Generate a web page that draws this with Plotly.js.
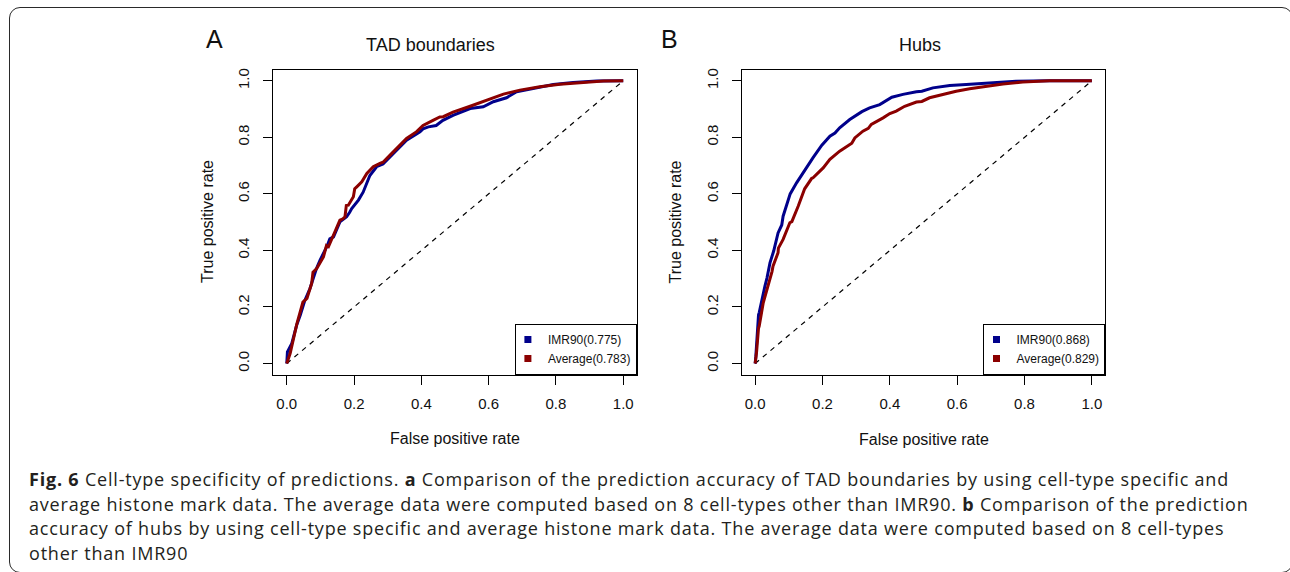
<!DOCTYPE html>
<html>
<head>
<meta charset="utf-8">
<script src="https://cdn.plot.ly/plotly-3.0.1.min.js"></script>
<style>
  html, body { margin: 0; padding: 0; background: #ffffff; }
  #wrap { position: relative; width: 1290px; height: 572px; overflow: hidden; }
  #chart { position: absolute; left: 0; top: 0; width: 1290px; height: 572px; }
  #frame { position: absolute; left: 9px; top: 7px; width: 1284px; height: 566px;
           border: 1.5px solid #2a2a2a; border-radius: 11px; box-sizing: border-box; pointer-events: none; }
</style>
</head>
<body>
<div id="wrap">
  <div id="chart"></div>
  <div id="frame"></div>
</div>
<script>
// ---------- Panel A: TAD boundaries ----------
const tadImrFpr = [0, 0.002, 0.015, 0.029, 0.040, 0.048, 0.054, 0.069, 0.088, 0.099, 0.119, 0.128, 0.139, 0.158, 0.178, 0.187, 0.193, 0.213, 0.227, 0.247, 0.267, 0.286, 0.297, 0.327, 0.356, 0.396, 0.405, 0.421, 0.444, 0.464, 0.494, 0.545, 0.584, 0.614, 0.653, 0.683, 0.733, 0.792, 0.851, 0.921, 1];
const tadImrTpr = [0, 0.041, 0.071, 0.134, 0.171, 0.205, 0.224, 0.265, 0.335, 0.366, 0.413, 0.441, 0.448, 0.501, 0.519, 0.535, 0.548, 0.578, 0.606, 0.665, 0.696, 0.706, 0.719, 0.755, 0.790, 0.820, 0.830, 0.837, 0.842, 0.860, 0.878, 0.902, 0.908, 0.926, 0.940, 0.961, 0.973, 0.987, 0.994, 0.999, 1];
const tadAvgFpr = [0, 0.010, 0.030, 0.034, 0.045, 0.048, 0.060, 0.074, 0.078, 0.089, 0.109, 0.118, 0.124, 0.139, 0.158, 0.167, 0.173, 0.177, 0.183, 0.198, 0.202, 0.208, 0.223, 0.238, 0.247, 0.257, 0.277, 0.286, 0.307, 0.332, 0.346, 0.356, 0.386, 0.405, 0.436, 0.455, 0.465, 0.494, 0.545, 0.594, 0.644, 0.693, 0.752, 0.812, 0.871, 0.941, 1];
const tadAvgTpr = [0, 0.035, 0.140, 0.158, 0.206, 0.217, 0.230, 0.283, 0.323, 0.336, 0.377, 0.417, 0.413, 0.454, 0.507, 0.512, 0.519, 0.559, 0.560, 0.590, 0.618, 0.625, 0.643, 0.672, 0.683, 0.696, 0.708, 0.712, 0.737, 0.767, 0.783, 0.796, 0.820, 0.842, 0.861, 0.872, 0.873, 0.889, 0.910, 0.932, 0.953, 0.967, 0.979, 0.988, 0.994, 0.999, 1];

// ---------- Panel B: Hubs ----------
const hubImrFpr = [0, 0.002, 0.010, 0.012, 0.029, 0.035, 0.044, 0.055, 0.068, 0.079, 0.083, 0.104, 0.123, 0.148, 0.172, 0.198, 0.222, 0.237, 0.251, 0.281, 0.317, 0.340, 0.370, 0.406, 0.439, 0.479, 0.495, 0.528, 0.578, 0.627, 0.696, 0.775, 0.874, 1];
const hubImrTpr = [0, 0.026, 0.172, 0.180, 0.274, 0.302, 0.356, 0.398, 0.462, 0.490, 0.521, 0.600, 0.639, 0.685, 0.728, 0.772, 0.804, 0.815, 0.834, 0.863, 0.891, 0.904, 0.916, 0.942, 0.952, 0.961, 0.963, 0.975, 0.983, 0.987, 0.993, 0.998, 1.0, 1];
const hubAvgFpr = [0, 0.004, 0.010, 0.012, 0.024, 0.025, 0.039, 0.050, 0.053, 0.068, 0.069, 0.083, 0.103, 0.109, 0.128, 0.147, 0.168, 0.172, 0.202, 0.218, 0.222, 0.251, 0.276, 0.287, 0.296, 0.320, 0.336, 0.345, 0.380, 0.400, 0.419, 0.444, 0.479, 0.495, 0.518, 0.558, 0.597, 0.637, 0.686, 0.736, 0.795, 0.874, 1];
const hubAvgTpr = [0, 0.038, 0.125, 0.132, 0.215, 0.219, 0.285, 0.325, 0.344, 0.392, 0.408, 0.439, 0.498, 0.502, 0.557, 0.618, 0.655, 0.657, 0.692, 0.715, 0.722, 0.751, 0.769, 0.779, 0.798, 0.822, 0.832, 0.846, 0.869, 0.884, 0.893, 0.910, 0.925, 0.927, 0.940, 0.952, 0.963, 0.972, 0.981, 0.989, 0.996, 1.0, 1];

// Chance diagonal
const diagX = [0, 1];
const diagY = [0, 1];

// Text
const panelTitles = ["TAD boundaries", "Hubs"];
const panelLetters = ["A", "B"];
const seriesNames = ["IMR90", "Average"];
const aucA = ["0.775", "0.783"];
const aucB = ["0.868", "0.829"];
const tickVals = [0, 0.2, 0.4, 0.6, 0.8, 1.0];
const tickText = ["0.0", "0.2", "0.4", "0.6", "0.8", "1.0"];
const xTitle = "False positive rate";
const yTitle = "True positive rate";
const captionLines = [
  "<b>Fig. 6</b> Cell-type specificity of predictions. <b>a</b> Comparison of the prediction accuracy of TAD boundaries by using cell-type specific and",
  "average histone mark data. The average data were computed based on 8 cell-types other than IMR90. <b>b</b> Comparison of the prediction",
  "accuracy of hubs by using cell-type specific and average histone mark data. The average data were computed based on 8 cell-types",
  "other than IMR90"
];

const colBlue = "#00008B";
const colRed = "#8B0000";

// ---------- helpers for layout positions (pixels -> paper) ----------
const W = 1290, H = 572;
const px = v => v / W;
const py = v => 1 - v / H;

const FONT = "Liberation Sans, Arial, Helvetica, sans-serif";

function curve(x, y, name, color, xa, ya) {
  return { type: "scatter", mode: "lines", x: x, y: y, name: name, xaxis: xa, yaxis: ya,
           line: { color: color, width: 3 }, showlegend: false, hoverinfo: "x+y+name" };
}
function legendEntry(name, color, leg) {
  return { type: "scatter", mode: "markers", x: [null], y: [null], name: name, legend: leg,
           marker: { symbol: "square", size: 7, color: color }, showlegend: true, hoverinfo: "skip",
           xaxis: leg === "legend" ? "x" : "x2", yaxis: leg === "legend" ? "y" : "y2" };
}
function diag(xa, ya) {
  return { type: "scatter", mode: "lines", x: diagX, y: diagY, xaxis: xa, yaxis: ya,
           line: { color: "#000000", width: 1.2, dash: "5px,5px" }, showlegend: false, hoverinfo: "skip" };
}

const data = [
  diag("x", "y"),
  curve(tadImrFpr, tadImrTpr, seriesNames[0], colBlue, "x", "y"),
  curve(tadAvgFpr, tadAvgTpr, seriesNames[1], colRed, "x", "y"),
  diag("x2", "y2"),
  curve(hubImrFpr, hubImrTpr, seriesNames[0], colBlue, "x2", "y2"),
  curve(hubAvgFpr, hubAvgTpr, seriesNames[1], colRed, "x2", "y2"),
  legendEntry(seriesNames[0] + "(" + aucA[0] + ")", colBlue, "legend"),
  legendEntry(seriesNames[1] + "(" + aucA[1] + ")", colRed, "legend"),
  legendEntry(seriesNames[0] + "(" + aucB[0] + ")", colBlue, "legend2"),
  legendEntry(seriesNames[1] + "(" + aucB[1] + ")", colRed, "legend2")
];

function xAxis(domain, anchor) {
  return { domain: domain, anchor: anchor, range: [-0.04, 1.04], fixedrange: true,
           tickvals: tickVals, ticktext: tickText, ticks: "outside", ticklen: 9, tickwidth: 1, tickcolor: "#000",
           ticklabelstandoff: 6,
           showline: true, mirror: true, linecolor: "#000", linewidth: 1.2,
           showgrid: false, zeroline: false, tickfont: { family: FONT, size: 15, color: "#111" } };
}
function yAxis(domain, anchor) {
  return { domain: domain, anchor: anchor, range: [-0.04, 1.04], fixedrange: true,
           tickvals: tickVals, ticktext: tickText, ticks: "outside", ticklen: 9, tickwidth: 1, tickcolor: "#000",
           tickangle: -90, ticklabelstandoff: 8,
           showline: true, mirror: true, linecolor: "#000", linewidth: 1.2,
           showgrid: false, zeroline: false, tickfont: { family: FONT, size: 15, color: "#111" } };
}

const yDom = [py(374.8), py(69.5)];

function legendBox(rightPx) {
  return { x: px(rightPx), y: py(374.8), xref: "paper", yref: "paper", xanchor: "right", yanchor: "bottom",
           bgcolor: "#ffffff", bordercolor: "#000", borderwidth: 1.2, itemwidth: 30, tracegroupgap: 0,
           indentation: -8,
           font: { family: FONT, size: 12, color: "#111" } };
}

function txt(text, x, y, size, opts) {
  return Object.assign({ text: text, x: px(x), y: py(y), xref: "paper", yref: "paper",
           showarrow: false, xanchor: "center", yanchor: "middle",
           font: { family: FONT, size: size, color: "#111" } }, opts || {});
}

const annotations = [
  txt(panelLetters[0], 214.5, 39, 25),
  txt(panelLetters[1], 669, 39, 25),
  txt(panelTitles[0], 430, 45, 18),
  txt(panelTitles[1], 920, 45, 18),
  txt(xTitle, 455, 438, 16),
  txt(xTitle, 923.5, 439, 16),
  txt(yTitle, 207, 222, 16, { textangle: -90 }),
  txt(yTitle, 675, 222.5, 16, { textangle: -90 })
];
const firstCaption = annotations.length;
const capY = [479, 503.5, 528, 552.5];
captionLines.forEach((line, i) => {
  annotations.push({ text: line, x: px(27), y: py(capY[i]), xref: "paper", yref: "paper", showarrow: false,
    xanchor: "left", yanchor: "middle", align: "left",
    font: { family: "Open Sans, Noto Sans, sans-serif", size: 18, color: "#231f20" } });
});

const layout = {
  width: W, height: H,
  margin: { l: 0, r: 0, t: 0, b: 0, pad: 0 },
  paper_bgcolor: "#ffffff", plot_bgcolor: "#ffffff",
  font: { family: FONT, color: "#111" },
  xaxis: xAxis([px(273.3), px(636.7)], "y"),
  yaxis: yAxis(yDom, "x"),
  xaxis2: xAxis([px(741.7), px(1105.3)], "y2"),
  yaxis2: yAxis(yDom, "x2"),
  legend: legendBox(636.7),
  legend2: legendBox(1105.3),
  annotations: annotations,
  hovermode: "closest"
};

Plotly.newPlot("chart", data, layout, { staticPlot: false, displayModeBar: false, responsive: false })
  .then(gd => {
    // slight tracking on the caption text, as in the journal typesetting
    gd.querySelectorAll("g.annotation").forEach(g => {
      const idx = +g.getAttribute("data-index");
      if (idx >= firstCaption) {
        const t = g.querySelector("text.annotation-text");
        if (t) t.style.letterSpacing = "0.8px";
      }
    });
  });
</script>
</body>
</html>
